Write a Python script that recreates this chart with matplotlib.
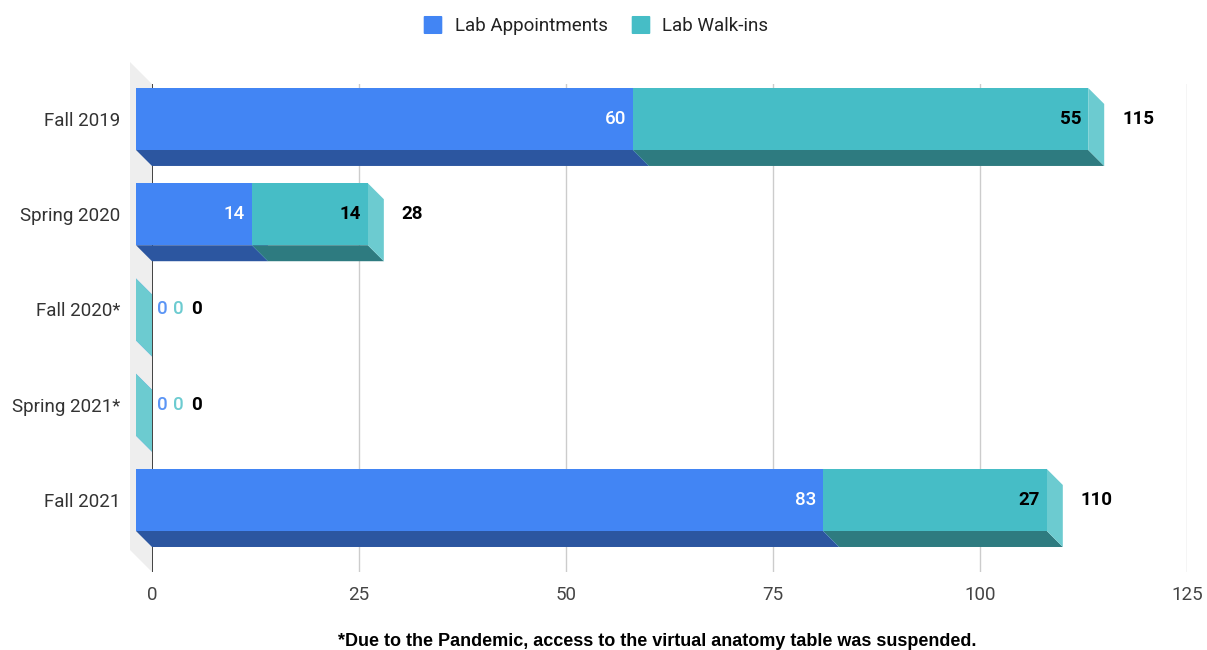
import matplotlib

matplotlib.use("Agg")
import matplotlib.pyplot as plt
from matplotlib.patches import Polygon, FancyBboxPatch

# Stacked 3D-looking horizontal bars.
TERMS = ["Fall 2019", "Spring 2020", "Fall 2020*", "Spring 2021*", "Fall 2021"]
APPOINTMENTS = [60, 14, 0, 0, 83]
WALK_INS = [55, 14, 0, 0, 27]
SERIES_NAMES = ["Lab Appointments", "Lab Walk-ins"]
X_TICKS = [0, 25, 50, 75, 100, 125]
FOOTNOTE = "*Due to the Pandemic, access to the virtual anatomy table was suspended."

FRONT = ["#4285f4", "#46bdc6"]
BOTTOM = ["#2c56a0", "#2e7b80"]
SIDE = ["#6a9ef7", "#6ccbd0"]
ZERO_LABEL = ["#5b95f5", "#6ccbd0"]

W, H = 1207, 650
AX_LEFT, AX_RIGHT, AX_TOP, AX_BOTTOM = 152, 1187, 84, 572
Y_TOP, Y_BOTTOM = -0.535, 4.588
DEPTH = 16
WALL = 22
BAR_PX = 62

plt.rcParams["font.family"] = ["Roboto", "DejaVu Sans"]

fig = plt.figure(figsize=(W / 100, H / 100), dpi=100)
ax = fig.add_axes([AX_LEFT / W, (H - AX_BOTTOM) / H,
                   (AX_RIGHT - AX_LEFT) / W, (AX_BOTTOM - AX_TOP) / H])
ax.set_xlim(0, 125)
ax.set_ylim(Y_BOTTOM, Y_TOP)

px_x = 125 / (AX_RIGHT - AX_LEFT)
px_y = (Y_BOTTOM - Y_TOP) / (AX_BOTTOM - AX_TOP)
dx, dy = DEPTH * px_x, DEPTH * px_y
half = BAR_PX * px_y / 2


def face(points, color, z):
    ax.add_patch(Polygon(points, closed=True, facecolor=color, edgecolor="none",
                         zorder=z, clip_on=False))


# back wall on the left
wx, wy = WALL * px_x, WALL * px_y
face([(0, Y_TOP), (-wx, Y_TOP - wy), (-wx, Y_BOTTOM - wy), (0, Y_BOTTOM)], "#eeeeee", 0.5)

for x in X_TICKS[1:]:
    ax.plot([x, x], [Y_TOP, Y_BOTTOM], color="#cccccc", lw=1, zorder=1)
ax.plot([0, 0], [Y_TOP, Y_BOTTOM], color="#333333", lw=1.3, zorder=1)

for i, (appt, walk) in enumerate(zip(APPOINTMENTS, WALK_INS)):
    yt, yb = i - half, i + half
    start = 0
    for s, value in enumerate([appt, walk]):
        x0, x1 = start, start + value
        z = 3 + s
        face([(x0 - dx, yb - dy), (x1 - dx, yb - dy), (x1, yb), (x0, yb)], BOTTOM[s], z)
        face([(x1 - dx, yt - dy), (x1, yt), (x1, yb), (x1 - dx, yb - dy)], SIDE[s], z)
        face([(x0 - dx, yt - dy), (x1 - dx, yt - dy), (x1 - dx, yb - dy), (x0 - dx, yb - dy)],
             FRONT[s], z)
        if value > 0:
            ax.text(x1 - dx - 7 * px_x, i - dy, str(value), ha="right", va="center",
                    fontsize=13.5, color="white" if s == 0 else "black",
                    fontweight="medium" if s == 0 else "bold", zorder=10)
        else:
            ax.text(x1 + (5 + 16 * s) * px_x, i - dy, "0", ha="left", va="center",
                    fontsize=13.5, fontweight="medium", color=ZERO_LABEL[s], zorder=10)
        start = x1
    total = appt + walk
    gap = 18 if total > 0 else 39
    ax.text(total + gap * px_x, i - dy, str(total), ha="left", va="center",
            fontsize=13.5, fontweight="bold", color="black", zorder=10)

ax.set_xticks(X_TICKS)
ax.set_xticklabels([str(t) for t in X_TICKS])
ax.set_yticks([i - dy for i in range(len(TERMS))])
ax.set_yticklabels(TERMS)
ax.tick_params(axis="x", length=0, pad=10, labelsize=13.5, labelcolor="#444444")
ax.tick_params(axis="y", length=0, pad=23, labelsize=13.5, labelcolor="#333333")
for spine in ax.spines.values():
    spine.set_visible(False)

# legend
for sq_x, txt_x, name, color in zip([424, 632], [455, 662], SERIES_NAMES, FRONT):
    fig.patches.append(FancyBboxPatch(((sq_x + 1) / W, (H - 33) / H), 16 / W, 16 / H,
                                      boxstyle="round,pad=0.0005", transform=fig.transFigure,
                                      facecolor=color, edgecolor=color))
    fig.text(txt_x / W, (H - 26) / H, name, ha="left", va="center",
             fontsize=13.5, color="#222222")

fig.text(657 / W, (H - 641) / H, FOOTNOTE, ha="center", va="center",
         fontsize=13, fontweight="bold", family=["Liberation Sans", "DejaVu Sans"])

fig.savefig("out.png", dpi=100)
